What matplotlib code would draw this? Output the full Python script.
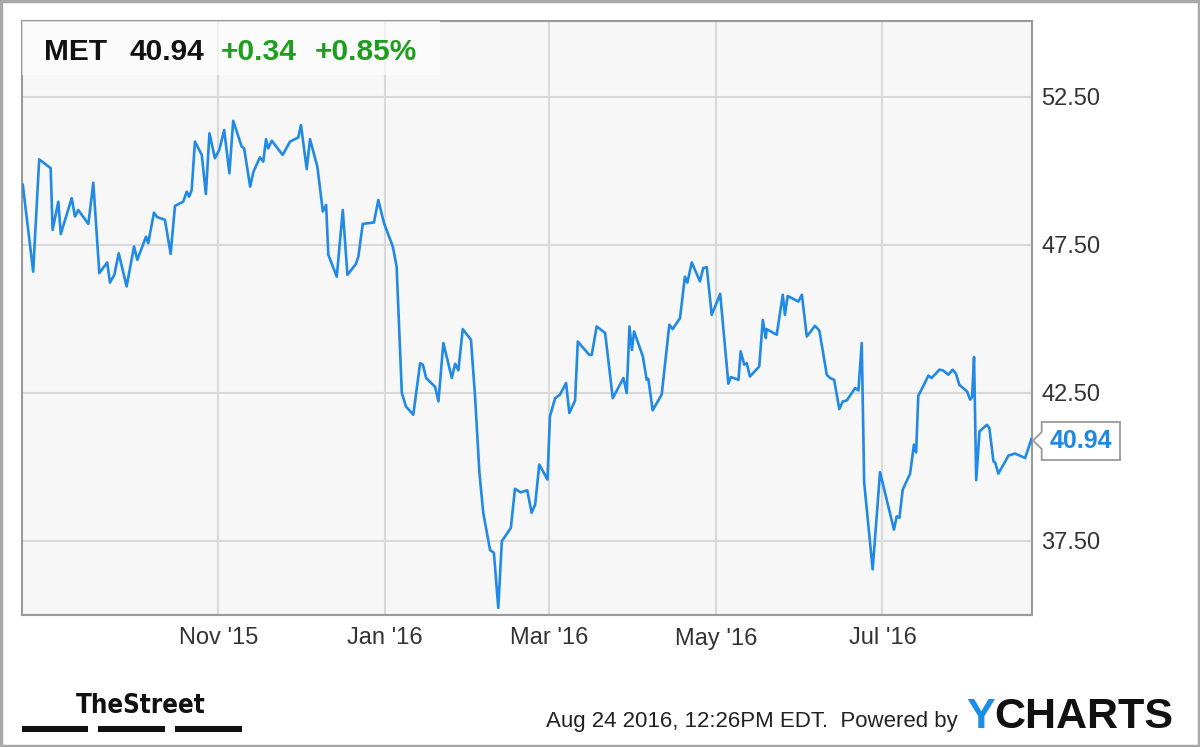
import matplotlib
matplotlib.use("Agg")
import matplotlib.pyplot as plt
import pandas as pd
from matplotlib.patches import Rectangle, Polygon
from matplotlib import font_manager as fm

# ---------------- data ----------------
ticker = "MET"
last_price = "40.94"
change_abs = "+0.34"
change_pct = "+0.85%"
start_date = "2015-08-21"
view_days = 369.6

day_offset = [0.4, 4.2, 6.4, 10.6, 11.3, 13.4, 14.3, 18.3, 19.5, 20.7,
              24.4, 26.2, 28.4, 31.3, 32.3, 33.9, 35.5, 38.4, 41.1, 42.3,
              45.5, 46.3, 48.4, 49.6, 52.4, 54.5, 56.1, 59.1, 60.4, 61.3,
              62.2, 63.4, 65.9, 67.4, 68.7, 70.7, 72.3, 74.1, 76.0, 77.4,
              80.5, 81.4, 83.6, 84.8, 87.2, 88.4, 89.4, 90.2, 91.5, 95.5,
              98.2, 101.2, 102.2, 104.3, 105.5, 108.2, 110.2, 111.4, 112.2, 115.3,
              117.5, 119.2, 122.3, 123.2, 124.8, 128.9, 130.5, 132.6, 135.8, 137.2,
              139.1, 140.6, 143.3, 145.8, 146.8, 148.0, 151.3, 152.5, 154.3, 157.4,
              158.6, 159.8, 161.4, 164.4, 165.9, 167.5, 168.9, 171.4, 172.8, 174.4,
              175.7, 179.0, 180.5, 182.6, 185.0, 186.6, 187.9, 189.4, 192.4, 193.3,
              195.2, 197.0, 199.2, 200.4, 202.5, 203.5, 207.7, 208.6, 210.4, 213.5,
              216.3, 220.2, 221.4, 222.4, 223.3, 224.1, 227.3, 228.7, 229.3, 230.9,
              234.2, 237.0, 238.2, 240.9, 242.7, 243.6, 245.2, 248.2, 249.4, 250.7,
              252.5, 255.6, 258.6, 259.5, 262.3, 263.1, 264.4, 265.3, 266.5, 269.9,
              271.2, 272.3, 272.6, 276.3, 278.5, 279.3, 280.3, 284.2, 285.5, 287.3,
              290.3, 291.9, 294.6, 295.8, 297.3, 299.2, 300.5, 301.9, 305.0, 306.2,
              307.4, 308.3, 311.4, 314.1, 319.2, 320.2, 321.2, 322.4, 325.1, 326.5,
              327.3, 328.1, 330.0, 331.8, 333.0, 335.8, 337.1, 339.1, 340.7, 341.9,
              343.1, 345.9, 347.1, 347.8, 348.5, 349.3, 350.5, 353.2, 354.1, 355.6,
              356.3, 357.4, 361.1, 363.5, 367.2, 369.5]

price = [49.52, 46.59, 50.38, 50.08, 48.00, 48.95, 47.86, 49.07, 48.45, 48.67,
         48.20, 49.59, 46.54, 46.90, 46.22, 46.48, 47.21, 46.09, 47.44, 46.99,
         47.77, 47.55, 48.58, 48.43, 48.34, 47.19, 48.81, 48.95, 49.29, 49.12,
         49.35, 50.98, 50.53, 49.21, 51.26, 50.42, 50.70, 51.37, 49.91, 51.68,
         50.81, 50.75, 49.46, 49.96, 50.45, 50.30, 51.06, 50.75, 51.01, 50.53,
         50.98, 51.12, 51.54, 50.05, 51.06, 50.13, 48.62, 48.84, 47.16, 46.42,
         48.67, 46.48, 46.85, 47.10, 48.20, 48.25, 49.01, 48.22, 47.44, 46.76,
         42.49, 42.04, 41.76, 43.50, 43.45, 43.00, 42.70, 42.21, 44.18, 43.00,
         43.48, 43.26, 44.65, 44.29, 42.38, 39.80, 38.45, 37.19, 37.10, 35.24,
         37.49, 37.94, 39.26, 39.14, 39.21, 38.45, 38.73, 40.08, 39.57, 41.70,
         42.32, 42.44, 42.83, 41.82, 42.24, 44.23, 43.78, 43.78, 44.74, 44.52,
         42.32, 43.00, 42.49, 44.74, 43.95, 44.57, 43.73, 42.94, 42.97, 41.91,
         42.44, 44.80, 44.65, 45.02, 46.42, 46.22, 46.90, 46.26, 46.71, 46.74,
         45.13, 45.84, 42.81, 43.03, 42.94, 43.90, 43.45, 43.50, 43.05, 43.39,
         44.96, 44.35, 44.65, 44.46, 45.81, 45.13, 45.77, 45.58, 45.81, 44.40,
         44.76, 44.60, 43.11, 43.00, 42.94, 41.95, 42.21, 42.24, 42.66, 42.58,
         44.18, 39.46, 36.54, 39.82, 37.88, 38.33, 38.28, 39.23, 39.77, 40.75,
         40.49, 42.40, 42.74, 43.08, 43.00, 43.28, 43.26, 43.11, 43.28, 43.14,
         42.77, 42.55, 42.27, 42.36, 43.71, 39.55, 41.20, 41.42, 41.31, 40.19,
         40.13, 39.77, 40.38, 40.45, 40.30, 40.94]

x_tick_dates = ["2015-11-01", "2016-01-01", "2016-03-01", "2016-05-01", "2016-07-01"]
x_tick_labels = ["Nov '15", "Jan '16", "Mar '16", "May '16", "Jul '16"]
y_ticks = [37.5, 42.5, 47.5, 52.5]
y_range = (35.0, 55.05)

footer_text = "Aug 24 2016, 12:26PM EDT.  Powered by"

assert len(day_offset) == len(price)

# ---------------- figure ----------------
W, H = 1200, 747
FONT = "Liberation Sans"
plt.rcParams["font.family"] = [FONT, "DejaVu Sans"]

fig = plt.figure(figsize=(W / 100, H / 100), dpi=100)
fig.patch.set_facecolor("white")


def fx(px):
    return px / W


def fy(py):
    return 1 - py / H


ax = fig.add_axes([fx(21.7), fy(615), (1031.7 - 21.7) / W, (615 - 21) / H])
ax.set_facecolor("#f7f7f7")

start = pd.Timestamp(start_date)
dates = start + pd.to_timedelta(day_offset, unit="D")
ax.plot(dates, price, color="#2189e6", lw=1.9, solid_joinstyle="round", zorder=3)

ax.set_xlim(start, start + pd.to_timedelta(view_days, unit="D"))
ax.set_ylim(*y_range)

ax.set_xticks(pd.to_datetime(x_tick_dates))
ax.set_xticklabels(x_tick_labels)
ax.set_yticks(y_ticks)
ax.set_yticklabels([f"{v:.2f}" for v in y_ticks])
ax.yaxis.tick_right()
ax.tick_params(axis="both", length=0, labelsize=17, labelcolor="#333333")
ax.tick_params(axis="y", pad=7)
ax.tick_params(axis="x", pad=9)
ax.grid(True, color="#d9d9d9", lw=1.5, zorder=1)
ax.set_axisbelow(True)
for s in ax.spines.values():
    s.set_color("#9a9a9a")
    s.set_linewidth(1.5)

# ---------------- title box ----------------
ax.add_patch(Rectangle((0, 1 - (75 - 21) / 594), (440 - 21.7) / 1010, (75 - 21) / 594,
                       transform=ax.transAxes, facecolor="white", alpha=0.6,
                       edgecolor="none", zorder=4))
title_y = fy(60)
fig.text(fx(44), title_y, ticker, fontsize=21.5, weight="bold", color="#111111", va="baseline")
fig.text(fx(130), title_y, last_price, fontsize=21.5, weight="bold", color="#111111", va="baseline")
fig.text(fx(221), title_y, change_abs, fontsize=21.5, weight="bold", color="#1d9e1d", va="baseline")
fig.text(fx(315), title_y, change_pct, fontsize=21.5, weight="bold", color="#1d9e1d", va="baseline")

# ---------------- last price label ----------------
tag = [(1041.7, 422), (1120, 422), (1120, 460), (1041.7, 460), (1041.7, 449),
       (1033, 440.5), (1041.7, 432)]
fig.patches.append(Polygon([(fx(a), fy(b)) for a, b in tag], closed=True,
                           transform=fig.transFigure, facecolor="white",
                           edgecolor="#9a9a9a", lw=1.3, zorder=5))
fig.text(fx(1081), fy(441), last_price, fontsize=18, weight="bold", color="#1e88e5",
         ha="center", va="center", zorder=6)

# ---------------- footer ----------------
# pick a condensed bold face for the logo text if one is installed
logo_kw = dict(family=FONT, weight="bold", fontsize=17)
for fam, stretch in [("Liberation Sans Narrow", "normal"), ("DejaVu Sans", "condensed"),
                     ("Roboto Condensed", "normal"), ("Open Sans Condensed", "normal")]:
    try:
        path = fm.findfont(fm.FontProperties(family=fam, stretch=stretch, weight="bold"),
                           fallback_to_default=False)
    except Exception:
        continue
    low = path.lower()
    if "narrow" in low or "condensed" in low:
        logo_kw = dict(family=fam, stretch=stretch, weight="bold", fontsize=18.5)
        break

fig.text(fx(76), fy(713), "TheStreet", color="#111111", va="baseline", **logo_kw)
for x0, x1 in [(22, 88), (98, 165), (175, 242)]:
    fig.patches.append(Rectangle((fx(x0), fy(732)), (x1 - x0) / W, 6 / H,
                                 transform=fig.transFigure, facecolor="#111111",
                                 edgecolor="none"))
fig.text(fx(958), fy(727), footer_text, fontsize=16, color="#222222", ha="right",
         va="baseline")
ty = fig.text(fx(966), fy(728), "Y", fontsize=31, weight="bold", color="#1a8fe8",
              va="baseline")
fig.canvas.draw()
bb = ty.get_window_extent()
fig.text(bb.x1 / W, fy(728), "CHARTS", fontsize=31, weight="bold", color="#111111",
         va="baseline")

# outer frame
fig.patches.append(Rectangle((0.001, 0.0015), 0.998, 0.997, transform=fig.transFigure,
                             facecolor="none", edgecolor="#a8a8a8", lw=2.5))

fig.savefig("out.png", dpi=100)
